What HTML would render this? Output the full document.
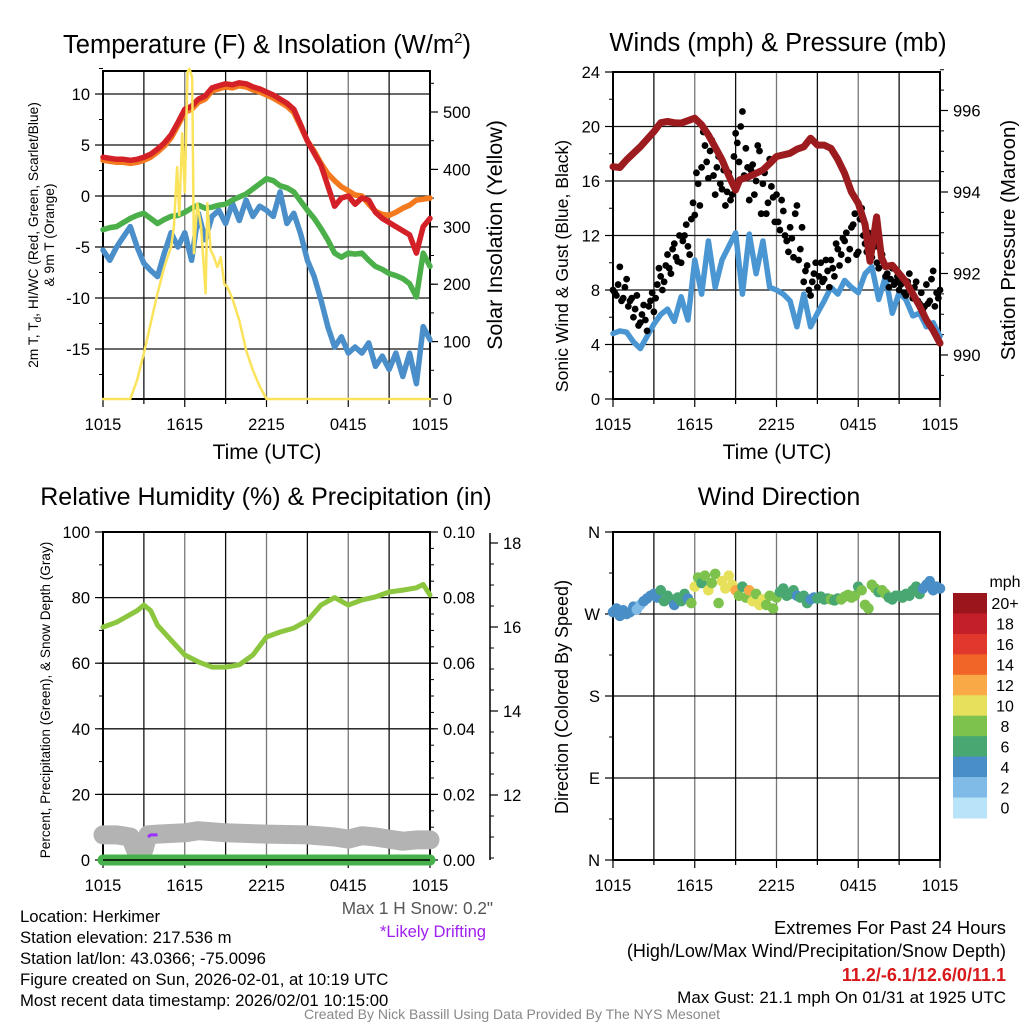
<!DOCTYPE html>
<html><head><meta charset="utf-8"><style>
html,body{margin:0;padding:0;background:#fff;}
svg{display:block;font-family:"Liberation Sans",sans-serif;}
</style></head><body>
<svg id="chart" width="1024" height="1024" viewBox="0 0 1024 1024" xmlns="http://www.w3.org/2000/svg">
<rect width="1024" height="1024" fill="#fff"/>
<g id="p1"></g>
<g id="p2"></g>
<g id="p3"></g>
<g id="p4"></g>

<text x="267" y="53" font-size="25.5" text-anchor="middle">Temperature (F) &amp; Insolation (W/m<tspan dy="-10" font-size="15">2</tspan><tspan dy="10">)</tspan></text>
<text x="778" y="51" font-size="25.5" text-anchor="middle">Winds (mph) &amp; Pressure (mb)</text>
<text x="266" y="505" font-size="25" text-anchor="middle">Relative Humidity (%) &amp; Precipitation (in)</text>
<text x="779" y="505" font-size="25" text-anchor="middle">Wind Direction</text>

<text x="267" y="459" font-size="21" text-anchor="middle">Time (UTC)</text>
<text x="777" y="459" font-size="21" text-anchor="middle">Time (UTC)</text>

<text transform="translate(38,235) rotate(-90)" font-size="13.8" text-anchor="middle">2m T, T<tspan dy="3" font-size="10">d</tspan><tspan dy="-3">, HI/WC (Red, Green, Scarlet/Blue)</tspan></text>
<text transform="translate(54,235) rotate(-90)" font-size="13.8" text-anchor="middle">&amp; 9m T (Orange)</text>
<text transform="translate(502,235) rotate(-90)" font-size="21.5" text-anchor="middle">Solar Insolation (Yellow)</text>
<text transform="translate(568,266) rotate(-90)" font-size="17.6" text-anchor="middle">Sonic Wind &amp; Gust (Blue, Black)</text>
<text transform="translate(1015,240) rotate(-90)" font-size="20.5" text-anchor="middle">Station Pressure (Maroon)</text>
<text transform="translate(50,700) rotate(-90)" font-size="13.6" text-anchor="middle">Percent, Precipitation (Green), &amp; Snow Depth (Gray)</text>
<text transform="translate(568,697) rotate(-90)" font-size="18" text-anchor="middle">Direction (Colored By Speed)</text>

<g font-size="16.7">
<text x="20" y="922">Location: Herkimer</text>
<text x="20" y="943">Station elevation: 217.536 m</text>
<text x="20" y="964">Station lat/lon: 43.0366; -75.0096</text>
<text x="20" y="985">Figure created on Sun, 2026-02-01, at 10:19 UTC</text>
<text x="20" y="1006">Most recent data timestamp: 2026/02/01 10:15:00</text>
</g>
<text x="493" y="914" font-size="17.2" fill="#555" text-anchor="end">Max 1 H Snow: 0.2"</text>
<text x="433" y="937" font-size="16.6" fill="#a020f0" text-anchor="middle">*Likely Drifting</text>
<g font-size="18" text-anchor="end">
<text x="1006" y="934" font-size="18.4">Extremes For Past 24 Hours</text>
<text x="1006" y="957">(High/Low/Max Wind/Precipitation/Snow Depth)</text>
<text x="1006" y="981" fill="#d7191c" font-weight="bold">11.2/-6.1/12.6/0/11.1</text>
<text x="1006" y="1003" font-size="17">Max Gust: 21.1 mph On 01/31 at 1925 UTC</text>
</g>
<text x="512" y="1019" font-size="14" fill="#888" text-anchor="middle">Created By Nick Bassill Using Data Provided By The NYS Mesonet</text>
</svg>
<script>
// ===== data (hours after 1015 UTC) =====
const halfHours = [0,0.5,1,1.5,2,2.5,3,3.5,4,4.5,5,5.5,6,6.5,7,7.5,8,8.5,9,9.5,10,10.5,11,11.5,12,12.5,13,13.5,14,14.5,15,15.5,16,16.5,17,17.5,18,18.5,19,19.5,20,20.5,21,21.5,22,22.5,23,23.5,24];
const tempT = [3.8,3.7,3.6,3.6,3.5,3.6,3.8,4.1,4.6,5.2,6.0,7.2,8.5,8.8,9.5,9.8,10.6,10.8,11.0,10.9,11.1,11.0,10.7,10.5,10.2,9.9,9.5,9.1,8.5,7.0,5.4,4.2,3.0,1.0,-1.0,-0.2,0.0,-0.8,-0.2,-0.4,-1.6,-2.2,-2.6,-3.0,-3.4,-3.8,-5.6,-3.0,-2.2];
const temp9m = [3.5,3.4,3.3,3.3,3.2,3.3,3.5,3.8,4.3,4.9,5.7,6.9,8.2,8.5,9.2,9.5,10.3,10.5,10.7,10.6,10.8,10.7,10.4,10.2,9.9,9.6,9.2,8.8,8.2,6.8,5.4,4.4,3.2,2.2,1.5,0.9,0.5,0.1,0.0,-0.8,-1.5,-1.8,-1.9,-1.6,-1.2,-0.9,-0.4,-0.3,-0.2];
const dewpoint = [-3.3,-3.1,-3.0,-2.6,-2.2,-1.9,-1.7,-2.2,-2.7,-2.3,-2.0,-1.9,-1.6,-1.2,-0.9,-1.2,-1.1,-0.9,-0.8,-0.4,-0.1,0.2,0.7,1.2,1.7,1.5,1.0,0.8,0.4,-0.5,-1.4,-2.2,-3.2,-4.3,-5.6,-6.0,-5.6,-5.7,-5.6,-6.3,-6.9,-7.2,-7.6,-7.8,-8.1,-8.6,-9.9,-5.6,-6.9];
const windChill = [-5.3,-6.3,-5.0,-4.0,-3.0,-5.0,-6.6,-7.3,-7.9,-5.6,-3.6,-5.0,-3.6,-6.3,-1.7,-4.3,-2.0,-1.4,-2.7,-0.7,-2.4,-0.4,-2.0,-1.0,-1.4,-2.0,0.4,-2.7,-1.7,-3.7,-6.3,-7.9,-10.2,-12.8,-14.8,-13.8,-15.4,-14.8,-15.4,-14.4,-16.7,-15.7,-17.0,-15.4,-17.7,-15.4,-18.4,-12.8,-14.1];
const solarHours = [0,2.0,2.5,3,3.5,4,4.5,5,5.2,5.44,5.6,5.81,6.0,6.2,6.35,6.55,6.67,6.92,7.2,7.53,7.66,7.9,8.15,8.4,8.64,8.9,9.13,9.5,10,10.5,11,11.5,12,24];
const solar = [0,0,33,80,132,184,230,265,300,404,320,463,360,570,575,560,254,341,300,184,341,260,247,230,247,200,195,175,137,85,50,22,0,0];
const windSpeed = [4.8,5.0,4.9,4.2,3.7,4.6,5.5,6.2,6.6,5.7,7.5,5.8,10.2,7.7,11.6,8.2,10.2,11.2,12.2,7.7,12.1,9.2,11.6,8.2,8.0,7.7,7.2,5.3,7.7,5.3,6.3,7.2,8.2,7.7,8.7,8.2,7.8,9.2,9.7,7.3,9.0,6.3,7.8,7.3,6.1,6.3,5.3,5.6,4.6];
const pressHours = [0,0.5,1,2,3,3.5,4,4.5,5,5.5,6,6.5,7,7.5,8,8.5,9,9.3,10,11,11.5,12,13,13.5,14,14.5,15,15.5,16,16.5,17,17.5,18,18.5,18.86,19.35,19.7,20,20.5,21,21.5,22,22.5,23,23.5,24];
const pressure = [994.62,994.6,994.79,995.11,995.48,995.7,995.73,995.7,995.69,995.75,995.81,995.65,995.4,995.1,994.79,994.4,994.05,994.3,994.38,994.54,994.7,994.87,994.95,995.05,995.11,995.32,995.15,995.15,995.07,994.8,994.46,994.0,993.72,993.2,992.3,993.39,992.4,992.17,992.2,992.0,991.8,991.5,991.2,990.86,990.6,990.29];
const gustA = [8.0,7.6,9.7,7.4,8.8,7.2,6.0,7.6,5.6,6.9,5.0,7.2,6.4,8.4,9.0,8.6,10.6,9.2,11.4,10.1,10.0,12.0,11.2,13.2,13.5,15.8,17.0,18.6,16.2,19.0,15.0,17.8,15.4,14.2,16.6,15.0,19.5,17.4,21.1,18.4,14.6,17.2,16.0,18.2,15.8,13.6,17.6,14.8,15.0,12.4,13.8,11.6,12.6,10.4,14.2,11.0,8.6,9.8,7.6,9.2,8.2,10.0,8.8,9.4,10.2,9.0,11.0,10.6,11.6,10.2,12.6,13.6,10.8,14.0,11.4,12.2,10.4,11.2,9.6,10.6,9.0,8.2,9.6,8.6,8.0,8.8,7.6,9.2,7.4,8.6,7.0,6.6,8.4,7.2,9.4,7.8,8.0];
const gustB = [7.8,8.4,7.2,8.2,6.8,7.4,6.6,5.4,6.2,5.8,6.8,7.8,7.4,9.6,8.0,9.8,9.6,11.0,10.4,12.0,11.6,12.8,10.6,14.4,16.6,14.2,19.6,17.4,18.2,16.4,17.0,15.8,16.8,15.2,14.6,17.8,18.8,20.0,16.4,17.0,16.8,15.0,18.6,13.6,16.6,14.4,15.6,13.0,13.0,14.6,12.0,10.8,11.8,13.6,10.2,12.6,9.4,8.0,8.6,10.0,9.0,8.6,10.2,8.2,9.6,11.4,9.8,11.8,12.2,11.0,12.8,10.6,13.2,12.0,10.8,11.6,11.8,10.0,11.0,9.8,9.2,8.8,8.4,9.0,8.4,7.8,8.6,8.0,8.2,7.2,7.8,6.8,7.0,8.8,6.8,7.4];
const rhHours = [0,1,2.5,3,3.5,4,5,6,7,8,9,10,11,12,13,14,15,16,17,18,19,20,21,22,23,23.5,24];
const humidity = [71,72.5,76,77.7,76,71.6,67,62.5,60.4,58.8,58.8,59.5,62.5,68,69.5,70.7,73,77.7,80,77.7,79.3,80.2,81.7,82.3,83,84,80.8];
const snowHours = [0,1,2,2.5,3,3.3,4,6,7,9,12,15,17,18,19,20,21,22,23,24];
const snowDepth = [11.05,11.05,11.0,10.6,10.7,11.05,11.07,11.1,11.15,11.1,11.07,11.05,11.0,10.95,11.03,11.0,10.95,10.9,10.93,10.93];
const precipHours = [0,24];
const precip = [0,0];
const dirDeg = [272,276,268,274,270,272,278,275,280,284,287,290,292,288,296,284,290,286,280,288,284,292,287,282,300,310,304,312,296,304,314,282,306,298,312,302,296,290,300,288,296,284,292,280,286,280,290,276,288,294,298,290,292,296,290,288,290,282,286,288,287,289,286,287,286,285,287,286,289,291,288,290,300,296,280,276,302,298,294,296,292,288,286,290,290,288,292,290,296,300,292,298,302,306,296,300,298];
const xTickLabels = ["1015","1615","2215","0415","1015"];
const tempTicks = [-15,-10,-5,0,5,10];
const solarTicks = [0,100,200,300,400,500];
const windTicks = [0,4,8,12,16,20,24];
const pressTicks = [990,992,994,996];
const rhTicks = [0,20,40,60,80,100];
const precipTicks = [0,0.02,0.04,0.06,0.08,0.10];
const snowTicks = [12,14,16,18];
const dirTicks = [0,90,180,270,360];
const dirLabels = ["N","E","S","W","N"];
const speedBins = ["0","2","4","6","8","10","12","14","16","18","20+"];
const speedColors = ["#b8e3f8","#7fbbe6","#4a8ec7","#49a772","#7dc24d","#e6e05b","#f9a945","#f26529","#e0382c","#c21f28","#9a161c"];

// ===== helpers =====
const NS="http://www.w3.org/2000/svg";
function mk(parent, tag, attrs){const e=document.createElementNS(NS,tag);for(const k in attrs)e.setAttribute(k,attrs[k]);parent.appendChild(e);return e;}
function lin(d0,d1,r0,r1){return v=>r0+(v-d0)*(r1-r0)/(d1-d0);}
function pathD(xs,ys,fx,fy){return xs.map((t,i)=>(i?"L":"M")+fx(t).toFixed(1)+","+fy(ys[i]).toFixed(1)).join("");}
function interp(xs,ys,t){for(let i=1;i<xs.length;i++){if(t<=xs[i]){const f=(t-xs[i-1])/(xs[i]-xs[i-1]);return ys[i-1]+f*(ys[i]-ys[i-1]);}}return ys[ys.length-1];}

function frame(g,L,R,T,B,yTicksL,fyL,gridY){
  for(let h=3;h<24;h+=3){
    const x=L+(R-L)*h/24;
    const ln=mk(g,"line",{x1:x,y1:T,x2:x,y2:B,stroke:(h%6===0)?"#777":"#111","stroke-width":1.3});
    
    
  }
  gridY.forEach(v=>{const y=fyL(v);if(y>T+1&&y<B-1){
    const ln=mk(g,"line",{x1:L,y1:y,x2:R,y2:y,stroke:"#111","stroke-width":1.3});
    
    }});
  const box=mk(g,"rect",{x:L,y:T,width:R-L,height:B-T,fill:"none",stroke:"#000","stroke-width":2});
  
  
  for(let h=0;h<=24;h+=3){
    const x=L+(R-L)*h/24;
    const tk=mk(g,"line",{x1:x,y1:B,x2:x,y2:B+(h%6===0?8:5),stroke:"#000","stroke-width":1.2});
    
    
  }
  xTickLabels.forEach((s,i)=>{
    const t=mk(g,"text",{x:L+(R-L)*i/4,y:B+31,"font-size":16.5,"text-anchor":"middle"});t.textContent=s;
    
    
  });
}
function yAxis(g,x,dir,ticks,fy,labels,fs,minorStep,lo,hi){
  ticks.forEach((v,i)=>{const y=fy(v);
    const tk=mk(g,"line",{x1:x,y1:y,x2:x+dir*8,y2:y,stroke:"#000","stroke-width":1.2});
    
    
    const t=mk(g,"text",{x:x+dir*13,y:y+6,"font-size":fs,"text-anchor":dir<0?"end":"start"});t.textContent=labels[i];
    
    
  });
  if(minorStep){for(let v=lo;v<=hi+1e-9;v+=minorStep){const y=fy(v);
    const tk=mk(g,"line",{x1:x,y1:y,x2:x+dir*4,y2:y,stroke:"#000","stroke-width":1});
    
    }}
}
function line(g,xs,ys,fx,fy,color,w,name){
  const p=mk(g,"path",{d:pathD(xs,ys,fx,fy),fill:"none",stroke:color,"stroke-width":w,"stroke-linejoin":"round","stroke-linecap":"round"});
  
  
}

// ===== Panel 1 =====
(function(){
  const g=document.getElementById("p1");
  const L=103,R=430,T=71,B=399;
  const fx=lin(0,24,L,R), fy=lin(0,10,196,94), fs=lin(0,500,399,112);
  frame(g,L,R,T,B,tempTicks,fy,tempTicks);
  yAxis(g,L,-1,tempTicks,fy,tempTicks.map(String),16.5,2.5,-17.5,12.5);
  yAxis(g,R,1,solarTicks,fs,solarTicks.map(String),16.5,50,0,550);
  line(g,halfHours,windChill,fx,fy,"#4a8fc9",5.5,"wind-chill-line");
  line(g,halfHours,dewpoint,fx,fy,"#4bb04a",5.5,"dewpoint-line");
  line(g,halfHours,temp9m,fx,fy,"#f47a20",5.5,"temp-9m-line");
  line(g,halfHours,tempT,fx,fy,"#d42027",5.5,"temp-2m-line");
  line(g,solarHours,solar,fx,fs,"#fbe35c",2.5,"solar-line");
})();

// ===== Panel 2 =====
(function(){
  const g=document.getElementById("p2");
  const L=613,R=940,T=72,B=399;
  const fx=lin(0,24,L,R), fy=lin(0,24,B,T), fp=lin(990,996,355,110.5);
  frame(g,L,R,T,B,windTicks,fy,windTicks);
  yAxis(g,L,-1,windTicks,fy,windTicks.map(String),16.5,2,0,24);
  yAxis(g,R,1,pressTicks,fp,pressTicks.map(String),16.5,0.5,989.5,997);
  line(g,halfHours,windSpeed,fx,fy,"#4a96d2",5.5,"sonic-wind-line");
  gustA.forEach((v,i)=>{const c=mk(g,"circle",{cx:fx(i*0.25),cy:fy(v),r:3.4,fill:"#000"});
    
    });
  gustB.forEach((v,i)=>{const c=mk(g,"circle",{cx:fx(i*0.25+0.125),cy:fy(v),r:3.4,fill:"#000"});
    
    });
  line(g,pressHours,pressure,fx,fp,"#9b1b1e",7,"pressure-line");
})();

// ===== Panel 3 =====
(function(){
  const g=document.getElementById("p3");
  const L=103,R=430,T=532,B=860;
  const fx=lin(0,24,L,R), fy=lin(0,100,B,T), fpr=lin(0,0.1,B,T), fsn=lin(12,18,795,543);
  frame(g,L,R,T,B,rhTicks,fy,rhTicks);
  yAxis(g,L,-1,rhTicks,fy,rhTicks.map(String),16.5,10,0,100);
  yAxis(g,R,1,precipTicks,fpr,precipTicks.map(v=>v.toFixed(2)),16.5,0.005,0,0.1);
  const ax=mk(g,"line",{x1:490,y1:533,x2:490,y2:860,stroke:"#000","stroke-width":1.5});
  
  
  yAxis(g,490,1,snowTicks,fsn,snowTicks.map(String),16.5,0.5,10.5,18);
  line(g,rhHours,humidity,fx,fy,"#8cc63f",5,"humidity-line");
  line(g,snowHours,snowDepth,fx,fsn,"#b3b3b3",19,"snow-depth-line");
  const dr=mk(g,"path",{d:"M"+fx(3.3)+","+(fsn(11.0))+"L"+fx(3.5)+","+fsn(11.05)+"L"+fx(4.0)+","+fsn(11.05),stroke:"#9b30ff","stroke-width":3,fill:"none"});
  
  
  line(g,precipHours,precip,fx,fpr,"#46b04a",11,"precip-line");
  const bl=mk(g,"line",{x1:L,y1:B,x2:R,y2:B,stroke:"#000","stroke-width":1.5});
  
  
})();

// ===== Panel 4 =====
(function(){
  const g=document.getElementById("p4");
  const L=613,R=940,T=532,B=860;
  const fx=lin(0,24,L,R), fy=lin(0,360,B,T);
  frame(g,L,R,T,B,dirTicks,fy,dirTicks);
  yAxis(g,L,-1,dirTicks,fy,dirLabels,16.5,45,0,360);
  dirDeg.forEach((d,i)=>{const t=i*0.25;const s=interp(halfHours,windSpeed,t);
    const bin=Math.max(0,Math.min(10,Math.floor(s/2)));
    const c=mk(g,"circle",{cx:fx(t),cy:fy(d),r:5.3,fill:speedColors[bin]});
    
    });
  const top=593,h=20.45;
  const mph=mk(g,"text",{x:1005,y:587,"font-size":16,"text-anchor":"middle"});mph.textContent="mph";
  
  
  for(let k=0;k<11;k++){const idx=10-k;
    const r=mk(g,"rect",{x:953,y:top+k*h,width:34,height:h+0.5,fill:speedColors[idx]});
    
    
    const t=mk(g,"text",{x:1005,y:top+k*h+h/2+6,"font-size":16,"text-anchor":"middle"});t.textContent=speedBins[idx];
    
    }
})();
</script>
</body></html>
